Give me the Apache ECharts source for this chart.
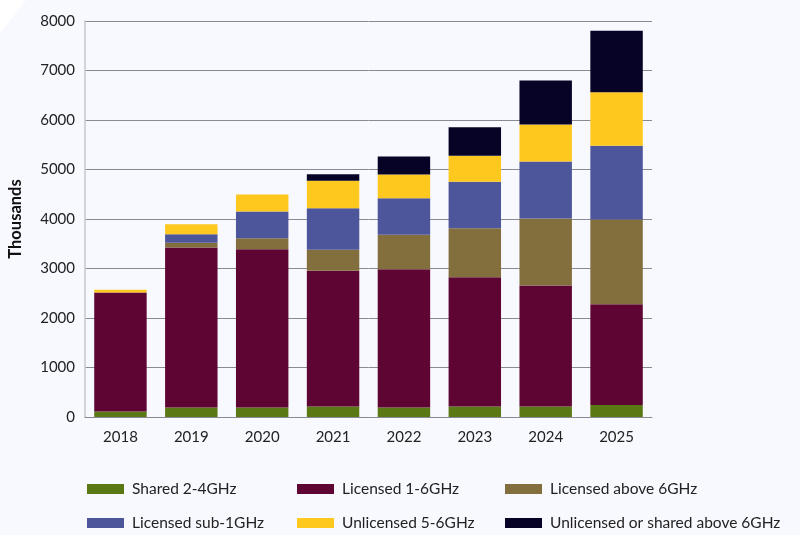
<!DOCTYPE html>
<html>
<head>
<meta charset="utf-8">
<script src="https://cdn.jsdelivr.net/npm/echarts@6/dist/echarts.min.js"></script>
<style>
html,body{margin:0;padding:0;background:#f8f9fe;}
#main{width:800px;height:535px;}
</style>
</head>
<body>
<div id="main"></div>
<script>
const categories = ['2018','2019','2020','2021','2022','2023','2024','2025'];
const shared24 = [110, 190, 190, 210, 190, 210, 210, 240];
const licensed16 = [2405, 3234, 3200, 2744, 2796, 2615, 2447, 2039];
const licensedAbove6 = [0, 95, 222, 424, 695, 986, 1353, 1711];
const licensedSub1 = [0, 174, 540, 840, 739, 940, 1152, 1489];
const unlicensed56 = [55, 202, 343, 554, 479, 526, 747, 1083];
const unlicensedAbove6 = [0, 0, 0, 133, 364, 578, 889, 1240];
const yTicks = [0, 1000, 2000, 3000, 4000, 5000, 6000, 7000, 8000];

const names = ['Shared 2-4GHz','Licensed 1-6GHz','Licensed above 6GHz','Licensed sub-1GHz','Unlicensed 5-6GHz','Unlicensed or shared above 6GHz'];
const colors = ['#5a7914','#5e0533','#836f3e','#4e569b','#fec81f','#070326'];
const dataSets = [shared24, licensed16, licensedAbove6, licensedSub1, unlicensed56, unlicensedAbove6];

const font = 'Lato, "DejaVu Sans", sans-serif';
const chart = echarts.init(document.getElementById('main'));

const legendPos = [[82,476],[292,476],[500,476],[82,510],[292,510],[500,510]];
const legends = names.map((n, i) => ({
  left: legendPos[i][0], top: legendPos[i][1],
  itemWidth: 37, itemHeight: 10,
  icon: 'rect',
  data: [n],
  textStyle: {fontFamily: font, fontSize: 15.5, color: '#222', padding: [0, 0, 0, 3]},
  selectedMode: false
}));

chart.setOption({
  backgroundColor: '#f8f9fe',
  animation: false,
  graphic: [{
    type: 'polygon', silent: true,
    shape: {points: [[0,0],[26,0],[0,34]]},
    style: {fill: '#ffffff'}
  }],
  grid: {left: 85, right: 148, top: 21, bottom: 118, outerBoundsMode: 'none', containLabel: false},
  legend: legends,
  xAxis: {
    type: 'category', data: categories,
    axisLine: {show: true, lineStyle: {color: '#8a8a96', width: 1}},
    axisTick: {show: false},
    axisLabel: {fontFamily: font, fontSize: 15, color: '#222', margin: 13}
  },
  yAxis: {
    type: 'value', min: 0, max: 8000, interval: 1000,
    name: 'Thousands', nameLocation: 'middle', nameGap: 61, nameRotate: 90,
    nameTextStyle: {fontFamily: font, fontSize: 16.5, fontWeight: 'bold', color: '#111'},
    axisLine: {show: true, lineStyle: {color: '#c4c4d2', width: 1.5}},
    axisTick: {show: false},
    axisLabel: {fontFamily: font, fontSize: 15, color: '#222', margin: 10,
      formatter: v => yTicks.includes(v) ? String(v) : ''},
    splitLine: {show: true, lineStyle: {color: '#8a8a96', width: 1}}
  },
  series: dataSets.map((d, i) => ({
    name: names[i], type: 'bar', stack: 'total', data: d,
    barCategoryGap: '26%',
    itemStyle: {color: colors[i]}
  }))
});
</script>
</body>
</html>
